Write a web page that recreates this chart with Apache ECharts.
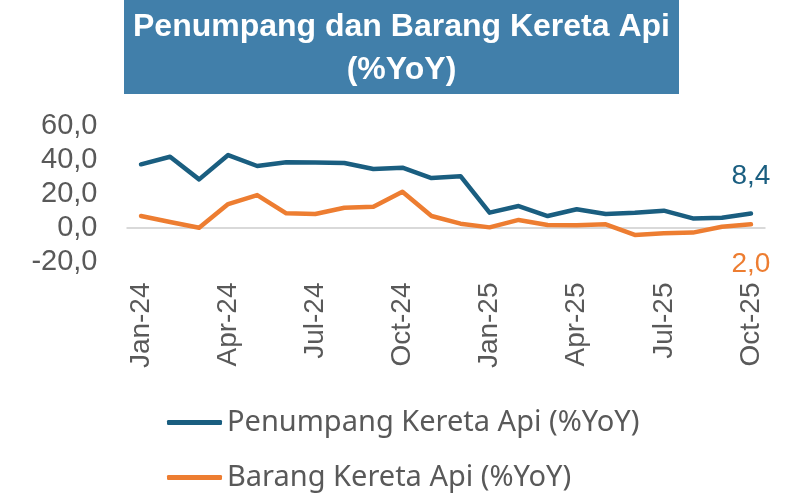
<!DOCTYPE html>
<html>
<head>
<meta charset="utf-8">
<script src="https://cdn.jsdelivr.net/npm/echarts@6/dist/echarts.min.js"></script>
<style>
  html, body { margin: 0; padding: 0; background: #fff; }
  #chart { width: 789px; height: 494px; }
</style>
</head>
<body>
<div id="chart"></div>
<script>
// data
const months = [
  'Jan-24', 'Feb-24', 'Mar-24', 'Apr-24', 'May-24', 'Jun-24', 'Jul-24', 'Aug-24', 'Sep-24', 'Oct-24', 'Nov-24', 'Dec-24',
  'Jan-25', 'Feb-25', 'Mar-25', 'Apr-25', 'May-25', 'Jun-25', 'Jul-25', 'Aug-25', 'Sep-25', 'Oct-25'
]
const penumpang = [37.5, 42.0, 28.6, 43.0, 36.5, 38.7, 38.6, 38.3, 34.7, 35.5, 29.4, 30.5,
  8.9, 12.8, 6.9, 10.9, 8.1, 8.9, 10.1, 5.5, 5.9, 8.4]
const barang = [6.9, 3.4, 0.0, 14.0, 19.3, 8.5, 8.1, 11.8, 12.4, 21.3, 6.9, 2.4,
  0.2, 4.6, 1.6, 1.5, 2.0, -4.3, -3.3, -2.9, 0.6, 2.0]
const yTicks = [-20, 0, 20, 40, 60]
const shownLabels = ['Jan-24', 'Apr-24', 'Jul-24', 'Oct-24', 'Jan-25', 'Apr-25', 'Jul-25', 'Oct-25']

const seriesNames = ['Penumpang Kereta Api (%YoY)', 'Barang Kereta Api (%YoY)']
const blue = '#1a5e80'
const orange = '#ed7d31'
const grey = '#595959'
const fmt = v => v.toFixed(1).replace('.', ',')
const axisFont = 'Liberation Sans, Arial, sans-serif'

const chart = echarts.init(document.getElementById('chart'))

const endLabel = (color, dy) => ({
  show: true,
  color: color,
  fontSize: 28,
  fontFamily: axisFont,
  distance: 0,
  align: 'center',
  verticalAlign: 'middle',
  offset: [0, dy],
  formatter: p => fmt(p.value)
})

// one legend per row, the vertical orient did not stack them
const legendBox = (name, top) => ({
  orient: 'vertical',
  left: 167,
  top: top,
  padding: 0,
  itemWidth: 55,
  itemHeight: 5,
  itemGap: 6,
  icon: 'roundRect',
  selectedMode: false,
  textStyle: {
    color: grey,
    fontSize: 29,
    fontFamily: 'Noto Sans, sans-serif'
  },
  data: [name]
})

chart.setOption({
  animation: false,
  graphic: [
    {
      type: 'rect',
      shape: {x: 124, y: 0, width: 555, height: 94},
      style: {fill: '#417faa'}
    },
    {
      type: 'text',
      x: 401.5, y: 27,
      style: {
        text: 'Penumpang dan Barang Kereta Api',
        fill: '#fff',
        font: 'bold 32px "Liberation Sans", Arial, sans-serif',
        textAlign: 'center',
        textVerticalAlign: 'middle'
      }
    },
    {
      type: 'text',
      x: 401.5, y: 70,
      style: {
        text: '(%YoY)',
        fill: '#fff',
        font: 'bold 32px "Liberation Sans", Arial, sans-serif',
        textAlign: 'center',
        textVerticalAlign: 'middle'
      }
    }
  ],
  grid: {left: 126.5, right: 23.5, top: 126.3, bottom: 232.5, containLabel: false},
  legend: [legendBox(seriesNames[0], 408), legendBox(seriesNames[1], 463)],
  xAxis: {
    type: 'category',
    data: months,
    boundaryGap: true,
    axisLine: {show: false},
    axisTick: {show: false},
    splitLine: {show: false},
    axisLabel: {
      interval: 0,
      rotate: 90,
      margin: 21,
      color: grey,
      fontSize: 28,
      fontFamily: axisFont,
      formatter: v => shownLabels.includes(v) ? v : ''
    }
  },
  yAxis: {
    type: 'value',
    min: yTicks[0],
    max: yTicks[yTicks.length - 1],
    interval: 20,
    axisLine: {show: false},
    axisTick: {show: false},
    splitLine: {show: false},
    axisLabel: {
      margin: 29,
      color: grey,
      fontSize: 29,
      fontFamily: axisFont,
      formatter: v => fmt(v)
    }
  },
  series: [
    {
      name: seriesNames[0],
      type: 'line',
      data: penumpang,
      showSymbol: false,
      symbol: 'none',
      z: 3,
      itemStyle: {color: blue},
      lineStyle: {color: blue, width: 4.5, cap: 'round', join: 'round'},
      endLabel: endLabel(blue, -37),
      markLine: {
        silent: true,
        symbol: 'none',
        label: {show: false},
        lineStyle: {color: '#d9d9d9', width: 2, type: 'solid'},
        data: [{yAxis: 0}],
        z: 1
      }
    },
    {
      name: seriesNames[1],
      type: 'line',
      data: barang,
      showSymbol: false,
      symbol: 'none',
      z: 2,
      itemStyle: {color: orange},
      lineStyle: {color: orange, width: 4.5, cap: 'round', join: 'round'},
      endLabel: endLabel(orange, 40)
    }
  ]
})
</script>
</body>
</html>
